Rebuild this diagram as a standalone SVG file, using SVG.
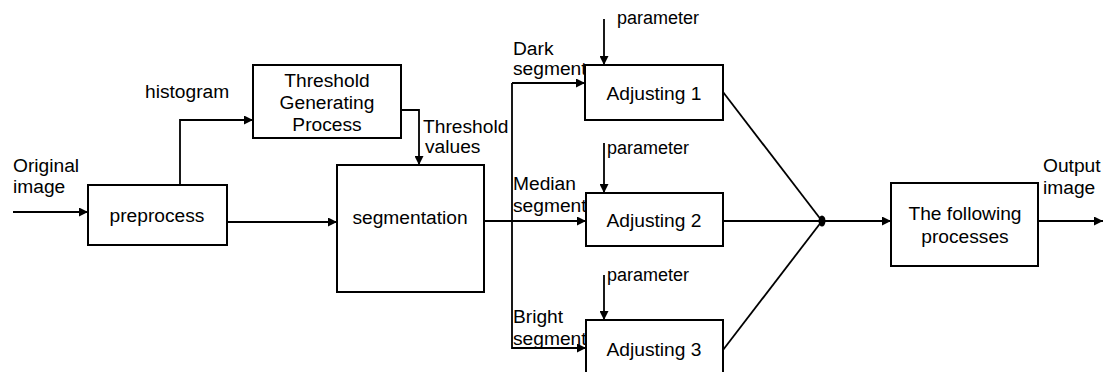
<svg xmlns="http://www.w3.org/2000/svg" width="1107" height="372" viewBox="0 0 1107 372">
  <style>
    .box { fill: #fff; stroke: #000; stroke-width: 2; }
    .wire { fill: none; stroke: #000; stroke-width: 1.8; }
    text { font-family: "Liberation Sans", Arial, sans-serif; font-size: 19.2px; fill: #000; }
    .mid { text-anchor: middle; }
    .small { font-size: 18px; }
  </style>
  <defs>
    <marker id="arrow" viewBox="0 0 10 10" refX="10" refY="5" markerWidth="10" markerHeight="9" markerUnits="userSpaceOnUse" orient="auto">
      <path d="M0,0 L10,5 L0,10 Z" fill="#000"/>
    </marker>
  </defs>
  <rect width="1107" height="372" fill="#fff"/>

  <!-- connectors -->
  <g id="connectors">
    <path class="wire" d="M13,212 H88" marker-end="url(#arrow)"/>
    <path class="wire" d="M180,185 V120 H253" marker-end="url(#arrow)"/>
    <path class="wire" d="M227,222 H337" marker-end="url(#arrow)"/>
    <path class="wire" d="M401,110 H419 V165" marker-end="url(#arrow)"/>
    <path class="wire" d="M484,221 H586" marker-end="url(#arrow)"/>
    <path class="wire" d="M512,83 V348 H586" marker-end="url(#arrow)"/>
    <path class="wire" d="M512,83 H585" marker-end="url(#arrow)"/>
    <path class="wire" d="M604,19 V65" marker-end="url(#arrow)"/>
    <path class="wire" d="M604,143 V193" marker-end="url(#arrow)"/>
    <path class="wire" d="M604,275 V320" marker-end="url(#arrow)"/>
    <path class="wire" d="M723,92 L822,221"/>
    <path class="wire" d="M723,221 L822,221"/>
    <path class="wire" d="M723,350 L822,221"/>
    <ellipse cx="822" cy="221" rx="3.5" ry="5.5" fill="#000"/>
    <path class="wire" d="M822,221 H891" marker-end="url(#arrow)"/>
    <path class="wire" d="M1038,221 H1103" marker-end="url(#arrow)"/>
  </g>

  <!-- edge labels -->
  <g id="labels">
    <text x="13" y="172">Original</text>
    <text x="13" y="193">image</text>
    <text x="145" y="98">histogram</text>
    <text x="423" y="133">Threshold</text>
    <text x="425" y="153">values</text>
    <text x="513" y="55">Dark</text>
    <text x="513" y="75">segment</text>
    <text x="513" y="190">Median</text>
    <text x="513" y="212">segment</text>
    <text x="513" y="323">Bright</text>
    <text x="513" y="345">segment</text>
    <text class="small" x="617" y="24">parameter</text>
    <text class="small" x="607" y="154">parameter</text>
    <text class="small" x="607" y="281">parameter</text>
    <text x="1043" y="172">Output</text>
    <text x="1043" y="194">image</text>
  </g>

  <g id="preprocess">
    <rect class="box" x="88" y="185" width="139" height="60"/>
    <text class="mid" x="157" y="222">preprocess</text>
  </g>

  <g id="threshold">
    <rect class="box" x="253" y="65" width="148" height="73"/>
    <text class="mid" x="327" y="87">Threshold</text>
    <text class="mid" x="327" y="109">Generating</text>
    <text class="mid" x="327" y="131">Process</text>
  </g>

  <g id="segmentation">
    <rect class="box" x="337" y="165" width="147" height="127"/>
    <text class="mid" x="410" y="224">segmentation</text>
  </g>

  <g id="adjusting1">
    <rect class="box" x="585" y="65" width="138" height="55"/>
    <text class="mid" x="654" y="100">Adjusting 1</text>
  </g>

  <g id="adjusting2">
    <rect class="box" x="586" y="193" width="137" height="53"/>
    <text class="mid" x="654" y="227">Adjusting 2</text>
  </g>

  <g id="adjusting3">
    <rect class="box" x="586" y="320" width="137" height="56"/>
    <text class="mid" x="654" y="356">Adjusting 3</text>
  </g>

  <g id="following">
    <rect class="box" x="891" y="183" width="147" height="83"/>
    <text class="mid" x="965" y="220">The following</text>
    <text class="mid" x="965" y="243">processes</text>
  </g>
</svg>
